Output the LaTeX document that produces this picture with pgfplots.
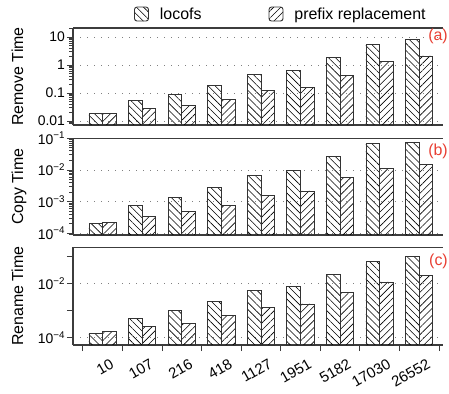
\documentclass[border=0pt]{standalone}
\usepackage{fontspec}
\setmainfont{Liberation Sans}
\usepackage{pgfplots}
\pgfplotsset{compat=1.18}
\usetikzlibrary{patterns.meta}
\definecolor{lblred}{RGB}{232,62,50}
\definecolor{axgray}{RGB}{60,60,60}
\tikzset{
 locostyle/.style={draw=black!80, line width=0.9bp, pattern={Lines[angle=-45,distance=5bp,line width=0.6bp]}, pattern color=black},
 prefstyle/.style={draw=black!80, line width=0.9bp, pattern={Lines[angle=45,distance=5bp,line width=0.6bp]}, pattern color=black},
}
\pgfplotsset{
  scale only axis, width=370bp,
  xmin=-0.75, xmax=8.6,
  axis x line*=bottom, axis y line*=left,
  axis line style={axgray, line width=1.1bp},
  tick style={axgray, line width=0.9bp},
  tick align=outside,
  major tick length=6bp, minor tick length=3.5bp,
  ymajorgrids, grid style={gray, line width=0.8bp, dash pattern=on 1bp off 6bp},
  clip=false,
  ylabel style={font=\fontsize{16}{18}\selectfont, at={(axis description cs:-0.135,0.5)}, anchor=base},
  yticklabel style={font=\fontsize{14}{16}\selectfont, xshift=1.5bp},
}
\pgfplotstableread{
x loc pre
0 0.019 0.019
1 0.052 0.027
2 0.090 0.037
3 0.18 0.061
4 0.47 0.125
5 0.65 0.16
6 1.8 0.42
7 5.5 1.3
8 8.3 2.1
}\removedata
\pgfplotstableread{
x loc pre
0 2.07e-4 2.2e-4
1 7.3e-4 3.4e-4
2 1.34e-3 4.8e-4
3 2.8e-3 7.7e-4
4 6.6e-3 1.6e-3
5 9.8e-3 2.17e-3
6 2.65e-2 5.7e-3
7 6.9e-2 1.13e-2
8 7.5e-2 1.47e-2
}\copydata
\pgfplotstableread{
x loc pre
0 1.4e-4 1.67e-4
1 5.1e-4 2.55e-4
2 9.7e-4 3.3e-4
3 2.1e-3 6.5e-4
4 5.5e-3 1.29e-3
5 7.7e-3 1.72e-3
6 2.2e-2 4.6e-3
7 6.5e-2 1.12e-2
8 9.7e-2 1.9e-2
}\renamedata
\begin{document}
\begin{tikzpicture}
\useasboundingbox (0,0) rectangle (449bp,-394bp);
% (a)
\begin{axis}[ymode=log, log origin=infty,
  at={(73bp,-125bp)}, anchor=south west, height=97bp,
  ymin=0.0072, ymax=20.9, xtick=\empty,
  ytick={0.01,0.1,1,10}, yticklabels={0.01,0.1,1,10},
  minor ytick={0.008,0.009,0.02,0.03,0.04,0.05,0.06,0.07,0.08,0.09,0.2,0.3,0.4,0.5,0.6,0.7,0.8,0.9,2,3,4,5,6,7,8,9,20},
  ylabel={Remove Time},
  legend columns=2,
  legend style={at={(axis description cs:0.165,1.144)}, anchor=west, draw=none, fill=none,
    inner sep=0pt, outer sep=0pt,
    font=\fontsize{16}{18}\selectfont,
    /tikz/every odd column/.append style={column sep=9bp},
    /tikz/every even column/.append style={column sep=65bp}},
]
\addplot[ybar, bar width=0.346, locostyle, bar shift=-0.173,
  legend image code/.code={\draw[locostyle, rounded corners=2.5bp] (0bp,-7bp) rectangle (14bp,7bp);}]
  table[x=x, y=loc] {\removedata};
\addlegendentry{locofs}
\addplot[ybar, bar width=0.346, prefstyle, bar shift=0.173,
  legend image code/.code={\draw[prefstyle, rounded corners=2.5bp] (0bp,-7bp) rectangle (14bp,7bp);}]
  table[x=x, y=pre] {\removedata};
\addlegendentry{prefix replacement}
\draw[axgray, line width=1.1bp] (rel axis cs:0,1) -- (rel axis cs:1,1);
\node[anchor=east, text=lblred, font=\fontsize{16}{18}\selectfont, inner sep=0pt] at (axis description cs:1.0135,0.91) {(a)};
\end{axis}
% (b)
\begin{axis}[ymode=log, log origin=infty,
  at={(73bp,-235bp)}, anchor=south west, height=96.7bp,
  ymin=8.8e-5, ymax=0.1, xtick=\empty,
  ytick={1e-4,1e-3,1e-2,1e-1},
  yticklabels={10\textsuperscript{−4},10\textsuperscript{−3},10\textsuperscript{−2},10\textsuperscript{−1}},
  minor ytick={9e-5,2e-4,3e-4,4e-4,5e-4,6e-4,7e-4,8e-4,9e-4,2e-3,3e-3,4e-3,5e-3,6e-3,7e-3,8e-3,9e-3,2e-2,3e-2,4e-2,5e-2,6e-2,7e-2,8e-2,9e-2},
  ylabel={Copy Time},
]
\addplot[ybar, bar width=0.346, locostyle, bar shift=-0.173] table[x=x, y=loc] {\copydata};
\addplot[ybar, bar width=0.346, prefstyle, bar shift=0.173] table[x=x, y=pre] {\copydata};
\draw[axgray, line width=1.1bp] (rel axis cs:0,1) -- (rel axis cs:1,1);
\node[anchor=east, text=lblred, font=\fontsize{16}{18}\selectfont, inner sep=0pt] at (axis description cs:1.0135,0.861) {(b)};
\end{axis}
% (c)
\begin{axis}[ymode=log, log origin=infty,
  at={(73bp,-345bp)}, anchor=south west, height=97.7bp,
  ymin=5.2e-5, ymax=0.215,
  ytick={1e-4,1e-2},
  yticklabels={10\textsuperscript{−4},10\textsuperscript{−2}},
  minor ytick={1e-3,1e-1}, minor tick length=6bp,
  ylabel={Rename Time},
  xtick={-0.5,0.5,1.5,2.5,3.5,4.5,5.5,6.5,7.5,8.5}, xticklabels={},
  extra x ticks={0,1,2,3,4,5,6,7,8},
  extra x tick labels={10,107,216,418,1127,1951,5182,17030,26552},
  extra x tick style={major tick length=0pt, xticklabel style={rotate=30, anchor=north east, xshift=3bp, yshift=-11bp, font=\fontsize{15}{17}\selectfont}},
]
\addplot[ybar, bar width=0.346, locostyle, bar shift=-0.173] table[x=x, y=loc] {\renamedata};
\addplot[ybar, bar width=0.346, prefstyle, bar shift=0.173] table[x=x, y=pre] {\renamedata};
\draw[axgray, line width=1.1bp] (rel axis cs:0,1) -- (rel axis cs:1,1);
\node[anchor=east, text=lblred, font=\fontsize{16}{18}\selectfont, inner sep=0pt] at (axis description cs:1.0135,0.86) {(c)};
\end{axis}
\end{tikzpicture}
\end{document}
